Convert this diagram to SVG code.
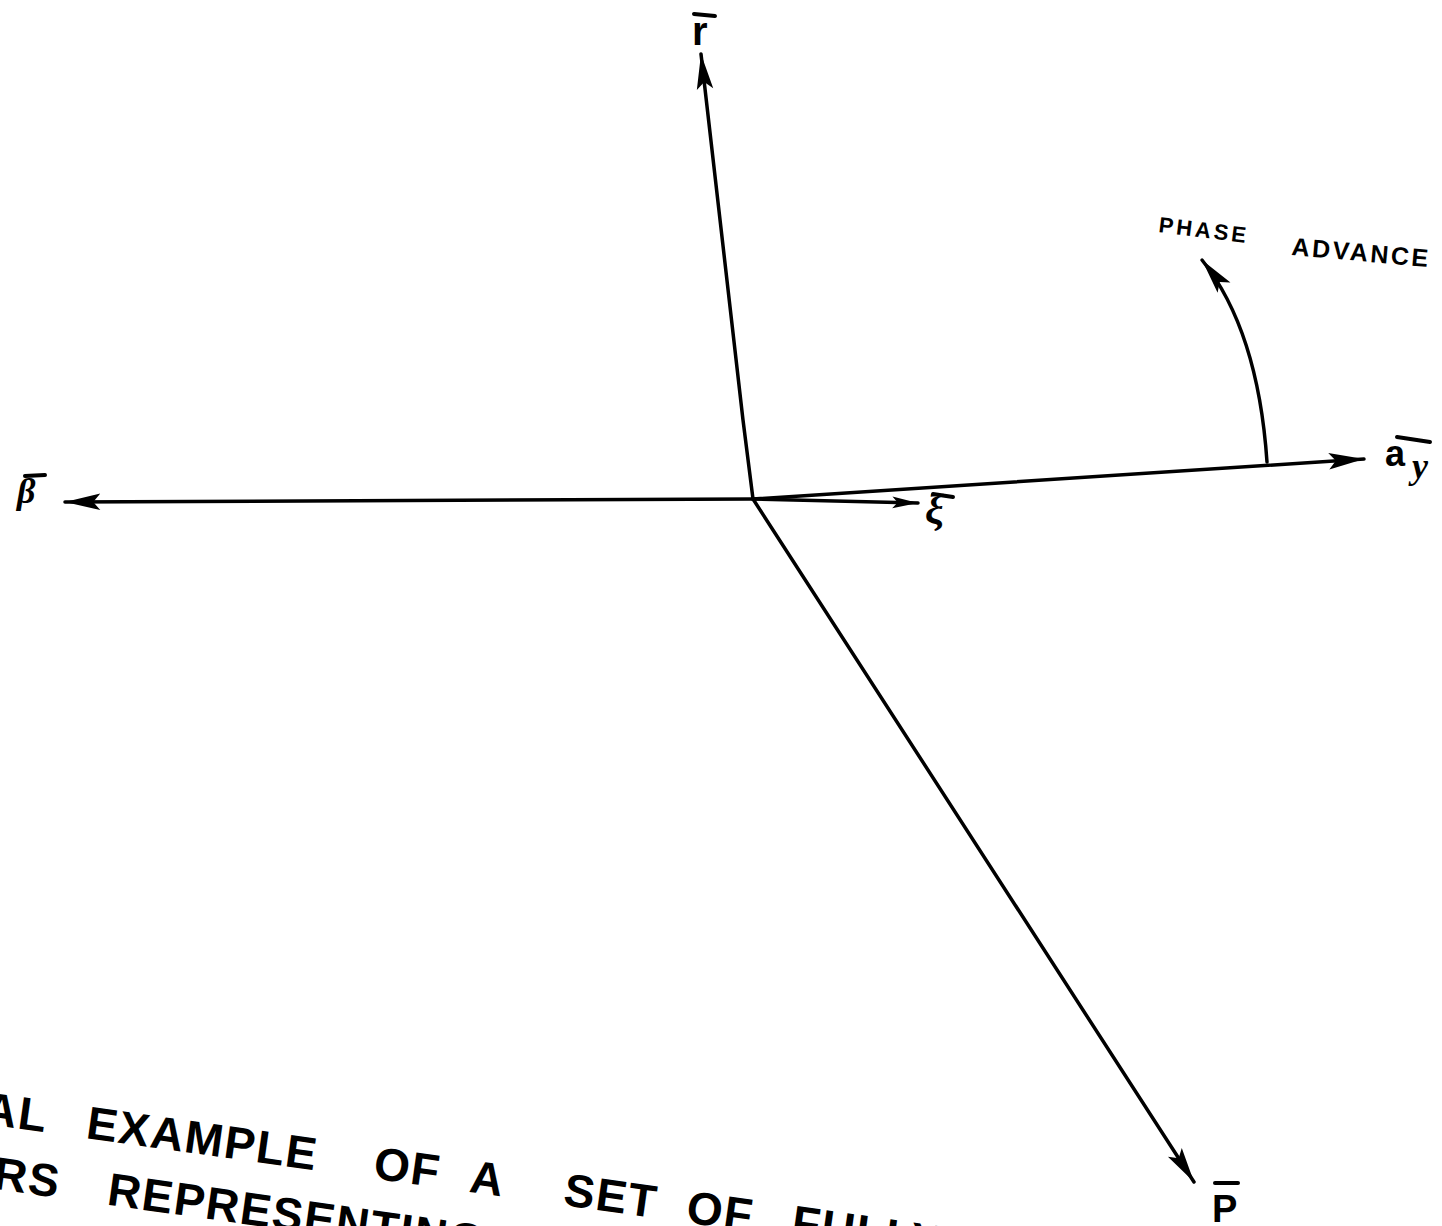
<svg xmlns="http://www.w3.org/2000/svg" width="1442" height="1226" viewBox="0 0 1442 1226">
<style>
.vec{stroke:#000;stroke-width:3.5;fill:none;stroke-linecap:round}
.bar{stroke:#000;stroke-width:4;stroke-linecap:round}
.lbl{font-family:"Liberation Serif",serif;font-style:italic;font-weight:bold;fill:#000}
.lbls{font-family:"Liberation Sans",sans-serif;font-weight:bold;fill:#000}
.cap{font-family:"Liberation Sans",sans-serif;font-weight:bold;fill:#000}
</style>
<defs>
<marker id="ah" markerUnits="userSpaceOnUse" markerWidth="40" markerHeight="20" refX="0" refY="0" viewBox="-32 -8 34 16" orient="auto">
<path d="M0,0 L-30,-7 L-24,0 L-30,7 Z" fill="#000"/>
</marker>
<marker id="ahs" markerUnits="userSpaceOnUse" markerWidth="30" markerHeight="16" refX="0" refY="0" viewBox="-26 -6 28 12" orient="auto">
<path d="M0,0 L-24,-5.5 L-19,0 L-24,5.5 Z" fill="#000"/>
</marker>
</defs>
<rect width="1442" height="1226" fill="#fff"/>
<g id="connectors">
<path class="vec" d="M753,499 L743,420 L701,54" marker-end="url(#ah)"/>
<path class="vec" d="M753,499 L65,502" marker-end="url(#ah)"/>
<path class="vec" d="M753,499 L1364,459" marker-end="url(#ah)"/>
<path class="vec" d="M753,499 L918,503" marker-end="url(#ahs)"/>
<path class="vec" d="M753,499 L1194,1182" marker-end="url(#ah)"/>
<path class="vec" d="M1267,462 Q1258,330 1202,260" marker-end="url(#ah)"/>
</g>
<g id="node-r">
<line class="bar" x1="694" y1="14" x2="715" y2="16"/>
<text class="lbls" x="692" y="45" font-size="40">r</text>
</g>
<g id="node-beta">
<line class="bar" x1="25" y1="476" x2="45" y2="475"/>
<text class="lbl" x="17" y="503" font-size="36">β</text>
</g>
<g id="node-ay">
<line class="bar" x1="1397" y1="437" x2="1430" y2="442"/>
<text class="lbls" x="1385" y="466" font-size="36">a</text>
<text class="lbl" x="1412" y="478" font-size="36">y</text>
</g>
<g id="node-xi">
<line class="bar" x1="933" y1="494" x2="953" y2="497"/>
<text class="lbl" x="925" y="524" font-size="42">ξ</text>
</g>
<g id="node-p">
<line class="bar" x1="1215" y1="1183" x2="1238" y2="1183"/>
<text class="lbls" x="1212" y="1222" font-size="38">P</text>
</g>
<g id="phase-advance">
<text class="cap" font-size="22" letter-spacing="3" transform="rotate(7 1158 232)" x="1158" y="232">PHASE</text>
<text class="cap" font-size="25" letter-spacing="2.5" transform="rotate(5 1291 255)" x="1291" y="255">ADVANCE</text>
</g>
<g id="caption">
<text class="cap" font-size="46" letter-spacing="1.5" transform="rotate(8 85 1138)">
<tspan x="-19" y="1138">AL</tspan><tspan x="85" y="1138">EXAMPLE</tspan><tspan x="375" y="1138">OF</tspan><tspan x="472" y="1138">A</tspan><tspan x="567" y="1138">SET</tspan><tspan x="691" y="1138">OF</tspan><tspan x="797" y="1138">FULLY</tspan>
<tspan x="0" y="1201">RS</tspan><tspan x="115" y="1201">REPRESENTING</tspan>
</text>
</g>
</svg>
